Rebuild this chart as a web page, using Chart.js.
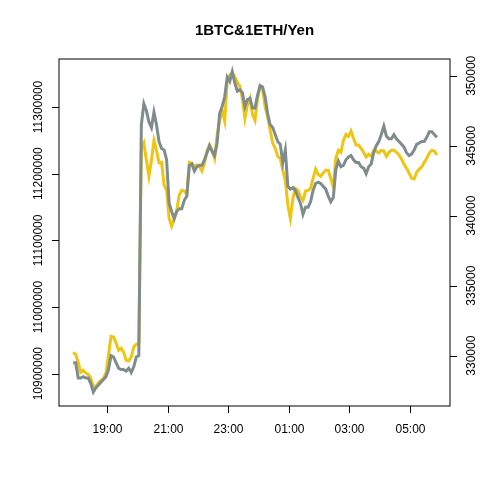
<!DOCTYPE html>
<html>
<head>
<meta charset="utf-8">
<script src="https://cdn.jsdelivr.net/npm/chart.js@4/dist/chart.umd.min.js"></script>
<style>
  html, body { margin: 0; padding: 0; background: #fff; }
  canvas { display: block; }
</style>
</head>
<body>
<canvas id="c" width="480" height="480"></canvas>
<script>
const chartTitle = '1BTC&1ETH/Yen';

// sampling: every 5 minutes, minutes counted from 18:00
const startMinute = -7;
const stepMinutes = 5;

const btcYen = [
  10932000, 10929000, 10917000, 10902000, 10905000, 10901000, 10899000, 10893000, 10881000, 10881000,
  10886000, 10890000, 10893000, 10901000, 10928000, 10956000, 10955000, 10946000, 10935000, 10938000,
  10932000, 10920000, 10919000, 10925000, 10940000, 10944000, 10946000, 11238000, 11246000, 11220000,
  11196000, 11220000, 11250000, 11235000, 11216000, 11217000, 11183000, 11175000, 11133000, 11121000,
  11132000, 11145000, 11168000, 11175000, 11174000, 11169000, 11217000, 11216000, 11211000, 11213000,
  11211000, 11204000, 11216000, 11234000, 11243000, 11235000, 11223000, 11258000, 11280000, 11295000,
  11279000, 11340000, 11348000, 11351000, 11345000, 11337000, 11331000, 11313000, 11283000, 11303000,
  11313000, 11289000, 11280000, 11313000, 11330000, 11327000, 11300000, 11285000, 11265000, 11246000,
  11238000, 11226000, 11223000, 11205000, 11190000, 11153000, 11133000, 11163000, 11178000, 11175000,
  11165000, 11160000, 11174000, 11175000, 11178000, 11193000, 11207000, 11199000, 11196000, 11201000,
  11205000, 11205000, 11193000, 11180000, 11223000, 11235000, 11232000, 11250000, 11259000, 11256000,
  11264000, 11253000, 11243000, 11243000, 11238000, 11232000, 11225000, 11229000, 11226000, 11235000,
  11234000, 11231000, 11235000, 11234000, 11226000, 11232000, 11235000, 11235000, 11232000, 11228000,
  11222000, 11214000, 11208000, 11201000, 11193000, 11192000, 11202000, 11207000, 11210000, 11217000,
  11223000, 11231000, 11235000, 11234000, 11228000
];

const ethYen = [
  329500, 329500, 328400, 328400, 328500, 328400, 328400, 328000, 327400, 327700,
  327900, 328100, 328300, 328500, 329000, 330000, 329900, 329500, 329100, 329000,
  329000, 328900, 329100, 328800, 329200, 329900, 330000, 346500, 348000, 347500,
  346700, 346300, 347400, 346500, 345300, 344800, 344700, 344000, 340900, 340300,
  339800, 340300, 340500, 340500, 341100, 341400, 343600, 343700, 343200, 343500,
  343600, 343600, 344000, 344500, 345000, 344600, 344300, 345200, 347300, 347800,
  348500, 349900, 349600, 350300, 349500, 348900, 349000, 348800, 347800, 348300,
  348400, 347700, 347700, 348600, 349300, 349200, 348500, 347300, 346500, 346300,
  345800, 345300, 345100, 343800, 344700, 342100, 341900, 342000, 341800, 341300,
  340900, 340100, 340600, 340600, 341000, 341800, 342300, 342400, 342300, 342100,
  341900, 341400, 341000, 341300, 343300, 343900, 343500, 343600, 344000, 344200,
  344300, 344000, 343800, 343800, 343500, 343400, 343000, 343500, 343700, 344500,
  345000, 345300, 345800, 346400, 345700, 345500, 345500, 345800, 345500, 345300,
  345100, 344900, 344500, 344300, 344400, 344700, 345100, 345200, 345300, 345300,
  345600, 346000, 346000, 345800, 345600
];

const timeTickMinutes = [60, 180, 300, 420, 540, 660];
const timeTickLabels = ['19:00', '21:00', '23:00', '01:00', '03:00', '05:00'];
const btcTicks = [10900000, 11000000, 11100000, 11200000, 11300000];
const ethTicks = [330000, 335000, 340000, 345000, 350000];

const toPoints = function(values) {
  return values.map(function(v, i) {
    return { x: startMinute + i * stepMinutes, y: v };
  });
};

const FONT = '"Liberation Sans", Arial, Helvetica, sans-serif';

// R style frame: box, ticks, rotated y labels, title
const baseAxes = {
  id: 'baseAxes',
  afterDraw(chart) {
    const ctx = chart.ctx;
    const a = chart.chartArea;
    const sx = chart.scales.x;
    const sl = chart.scales.yL;
    const sr = chart.scales.yR;
    const tick = 7;

    ctx.save();
    ctx.strokeStyle = '#000';
    ctx.lineWidth = 1;
    ctx.strokeRect(a.left, a.top, a.right - a.left, a.bottom - a.top);

    ctx.fillStyle = '#000';
    ctx.font = '12px ' + FONT;
    ctx.textAlign = 'center';
    ctx.textBaseline = 'middle';

    ctx.beginPath();
    timeTickMinutes.forEach(function(m, i) {
      const px = Math.round(sx.getPixelForValue(m)) + 0.5;
      ctx.moveTo(px, a.bottom);
      ctx.lineTo(px, a.bottom + tick);
      ctx.fillText(timeTickLabels[i], px, a.bottom + 24);
    });
    btcTicks.forEach(function(v) {
      const py = Math.round(sl.getPixelForValue(v)) + 0.5;
      ctx.moveTo(a.left, py);
      ctx.lineTo(a.left - tick, py);
    });
    ethTicks.forEach(function(v) {
      const py = Math.round(sr.getPixelForValue(v)) + 0.5;
      ctx.moveTo(a.right, py);
      ctx.lineTo(a.right + tick, py);
    });
    ctx.stroke();

    btcTicks.forEach(function(v) {
      ctx.save();
      ctx.translate(a.left - 20, sl.getPixelForValue(v));
      ctx.rotate(-Math.PI / 2);
      ctx.fillText(String(v), 0, 0);
      ctx.restore();
    });
    ethTicks.forEach(function(v) {
      ctx.save();
      ctx.translate(a.right + 22, sr.getPixelForValue(v));
      ctx.rotate(-Math.PI / 2);
      ctx.fillText(String(v), 0, 0);
      ctx.restore();
    });

    ctx.font = 'bold 15px ' + FONT;
    ctx.fillText(chartTitle, (a.left + a.right) / 2, 30.5);
    ctx.restore();
  }
};

new Chart(document.getElementById('c'), {
  type: 'line',
  data: {
    datasets: [
      {
        label: 'ETH',
        data: toPoints(ethYen),
        yAxisID: 'yR',
        borderColor: '#7f8c8d',
        borderWidth: 3,
        pointRadius: 0,
        tension: 0,
        order: 0
      },
      {
        label: 'BTC',
        data: toPoints(btcYen),
        yAxisID: 'yL',
        borderColor: '#f1c40f',
        borderWidth: 3,
        pointRadius: 0,
        tension: 0,
        order: 1
      }
    ]
  },
  options: {
    responsive: false,
    devicePixelRatio: 1,
    animation: false,
    layout: {
      padding: { left: 59, top: 59, right: 30, bottom: 74 }
    },
    plugins: {
      legend: { display: false },
      tooltip: { enabled: false },
      title: { display: false }
    },
    scales: {
      x: { type: 'linear', display: false, min: -35, max: 739 },
      yL: { type: 'linear', position: 'left', display: false, min: 10851500, max: 11372000 },
      yR: { type: 'linear', position: 'right', display: false, min: 326400, max: 351200 }
    }
  },
  plugins: [ baseAxes ]
});
</script>
</body>
</html>
